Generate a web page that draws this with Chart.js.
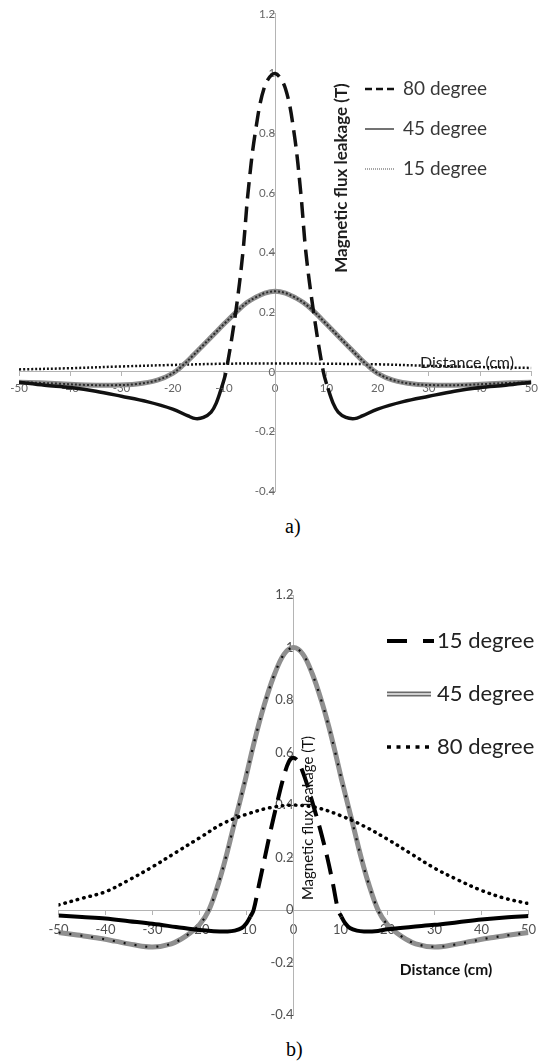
<!DOCTYPE html>
<html lang="en">
<head>
<meta charset="UTF-8">
<title>Magnetic flux leakage vs distance</title>
<script src="https://cdn.jsdelivr.net/npm/chart.js"></script>
<style>
  body { margin: 0; background: #fff; }
  #wrap { position: relative; width: 544px; height: 1063px; overflow: hidden; }
  canvas { position: absolute; left: 0; }
  #chartA { top: 0; }
  #chartB { top: 530px; }
  .cap { position: absolute; font-family: "Liberation Serif", serif; font-size: 20px; color: #000; }
</style>
</head>
<body>
<div id="wrap">
  <canvas id="chartA" width="544" height="505"></canvas>
  <div class="cap" style="left:285px; top:515px;">a)</div>
  <canvas id="chartB" width="544" height="500"></canvas>
  <div class="cap" style="left:286px; top:1038px;">b)</div>
</div>
<script>
// axis ticks (shared by both plots)
const xTickValues = [-50, -40, -30, -20, -10, 0, 10, 20, 30, 40, 50];
const yTickValues = [-0.4, -0.2, 0, 0.2, 0.4, 0.6, 0.8, 1, 1.2];
const yTickLabels = ['-0.4', '-0.2', '0', '0.2', '0.4', '0.6', '0.8', '1', '1.2'];

const yTitle = 'Magnetic flux leakage (T)';
const xTitle = 'Distance (cm)';

// plot a)
const seriesA = ['80 degree', '45 degree', '15 degree'];
const distA80 = [-50, -45, -40, -35, -30, -25, -20, -17, -15.5, -14, -12.5, -11.5, -10.5, -9.6, -7.7, -6.3, -5.3, -3.9, -2, 0,
                 2, 3.7, 5, 6, 7.5, 9.4, 10.3, 11.3, 12.3, 13.8, 15.5, 17, 20, 25, 30, 35, 40, 45, 50];
const fluxA80 = [-0.035, -0.045, -0.053, -0.065, -0.082, -0.1, -0.125, -0.148, -0.157, -0.153, -0.135, -0.105, -0.055, 0, 0.2, 0.4, 0.6, 0.8, 0.96, 1.0,
                 0.95, 0.8, 0.6, 0.4, 0.2, 0, -0.055, -0.105, -0.135, -0.153, -0.157, -0.148, -0.125, -0.1, -0.082, -0.065, -0.053, -0.045, -0.035];
const distA45 = [-50, -46, -42, -37, -32, -27, -23, -20, -18, -16, -14, -12, -10, -7.2, -5.5, -4, -2, 0,
                 2, 4, 5.5, 7.4, 10, 12, 14, 16, 18, 20, 23, 27, 32, 37, 42, 46, 50];
const fluxA45 = [-0.035, -0.037, -0.04, -0.044, -0.045, -0.041, -0.028, -0.005, 0.022, 0.055, 0.09, 0.125, 0.16, 0.207, 0.232, 0.248, 0.264, 0.27,
                 0.264, 0.248, 0.232, 0.205, 0.16, 0.125, 0.09, 0.055, 0.022, -0.005, -0.028, -0.041, -0.045, -0.044, -0.04, -0.037, -0.035];
const distA15 = [-50, -40, -30, -20, -10, 0, 10, 20, 30, 40, 50];
const fluxA15 = [0.008, 0.012, 0.018, 0.023, 0.027, 0.028, 0.027, 0.025, 0.02, 0.016, 0.013];

// plot b)
const seriesB = ['15 degree', '45 degree', '80 degree'];
const distB15 = [-50, -45, -40, -35, -30, -25, -20, -17, -14, -12.5, -11, -10, -9.2, -8.5, -7.3, -6.1, -4.9, -3.6, -2.2, -1, 0,
                 1, 2.5, 4.2, 5.8, 7.2, 8.4, 9.5, 10.2, 11, 12, 13.5, 15, 18, 20, 25, 30, 35, 40, 45, 50];
const fluxB15 = [-0.02, -0.026, -0.032, -0.042, -0.052, -0.064, -0.076, -0.08, -0.081, -0.078, -0.068, -0.05, -0.025, 0, 0.1, 0.2, 0.3, 0.4, 0.5, 0.565, 0.58,
                 0.565, 0.5, 0.4, 0.3, 0.2, 0.1, 0, -0.025, -0.05, -0.068, -0.078, -0.081, -0.079, -0.073, -0.064, -0.056, -0.046, -0.036, -0.028, -0.022];
const distB45 = [-50, -46, -42, -38, -34, -30, -26, -23, -20, -18, -16, -14.4, -13, -11.6, -10.2, -8.9, -7.5, -5.9, -4, -2, 0,
                 2, 4, 5.9, 7.5, 8.9, 10.2, 11.6, 13, 14.4, 16, 18, 20, 23, 26, 30, 34, 38, 42, 46, 50];
const fluxB45 = [-0.085, -0.095, -0.105, -0.118, -0.132, -0.14, -0.128, -0.1, -0.055, 0, 0.1, 0.2, 0.3, 0.4, 0.5, 0.6, 0.7, 0.8, 0.9, 0.975, 1.0,
                 0.975, 0.9, 0.8, 0.7, 0.6, 0.5, 0.4, 0.3, 0.2, 0.1, 0, -0.055, -0.1, -0.128, -0.14, -0.132, -0.118, -0.105, -0.095, -0.085];
const distB80 = [-50, -45, -40, -35, -30, -25, -20, -15, -10, -5, 0, 5, 10, 15, 20, 25, 30, 35, 40, 45, 50];
const fluxB80 = [0.02, 0.045, 0.07, 0.115, 0.165, 0.22, 0.275, 0.33, 0.365, 0.39, 0.4, 0.39, 0.36, 0.32, 0.27, 0.215, 0.16, 0.115, 0.075, 0.045, 0.025];

const FONT = 'Lato, "Open Sans", sans-serif';
Chart.defaults.font.family = FONT;

const pts = (xs, ys) => xs.map((x, i) => ({ x: x, y: ys[i] }));
// dashed only for the segments between lo and hi, solid tails outside
const dashBetween = (lo, hi, dash) => ctx =>
    (ctx.p0.parsed.x >= lo && ctx.p1.parsed.x <= hi) ? dash : [];

function line(data, color, width, dash, extra) {
    return Object.assign({
        data: data,
        borderColor: color,
        borderWidth: width,
        borderDash: dash || [],
        pointRadius: 0,
        fill: false,
        tension: 0.35
    }, extra || {});
}

function drawSample(ctx, s, y) {
    s.layers.forEach(l => {
        ctx.beginPath();
        ctx.strokeStyle = l.color;
        ctx.lineWidth = l.width;
        ctx.lineCap = l.cap || 'butt';
        ctx.setLineDash(l.dash || []);
        ctx.moveTo(s.x0, y);
        ctx.lineTo(s.x1, y);
        ctx.stroke();
    });
    ctx.setLineDash([]);
}

// legend and axis titles sit at free spots inside the plot
const sideText = {
    id: 'sideText',
    afterDatasetsDraw(chart, args, o) {
        const ctx = chart.ctx;
        ctx.save();
        o.items.forEach(it => {
            drawSample(ctx, it.sample, it.y);
            ctx.font = o.legendFont;
            ctx.fillStyle = o.legendColor;
            ctx.textAlign = 'left';
            ctx.textBaseline = 'middle';
            ctx.fillText(it.label, o.textX, it.y);
        });
        ctx.textAlign = 'center';
        ctx.textBaseline = 'middle';
        ctx.fillStyle = o.titleColor;
        ctx.font = o.xTitle.font;
        ctx.fillText(xTitle, o.xTitle.x, o.xTitle.y);
        ctx.translate(o.yTitle.x, o.yTitle.y);
        ctx.rotate(-Math.PI / 2);
        ctx.font = o.yTitle.font;
        ctx.fillText(yTitle, 0, 0);
        ctx.restore();
    }
};

function scales(tickFont, tickColor, xPad) {
    const axisGrid = { drawOnChartArea: false, color: '#b4b4b4', tickLength: 4, lineWidth: 1 };
    return {
        x: {
            type: 'linear', min: -50, max: 50,
            position: { y: 0 },
            afterBuildTicks: s => { s.ticks = xTickValues.map(v => ({ value: v })); },
            ticks: { autoSkip: false, maxRotation: 0, padding: xPad, font: tickFont, color: tickColor,
                     callback: v => String(v) },
            grid: axisGrid,
            border: { color: '#b4b4b4', width: 1 }
        },
        y: {
            type: 'linear', min: -0.4, max: 1.2,
            position: { x: 0 },
            afterBuildTicks: s => { s.ticks = yTickValues.map(v => ({ value: v })); },
            ticks: { autoSkip: false, padding: 7, font: tickFont, color: tickColor,
                     callback: (v, i) => yTickLabels[i] },
            grid: Object.assign({}, axisGrid, { tickLength: 5 }),
            border: { color: '#b4b4b4', width: 1 }
        }
    };
}

new Chart(document.getElementById('chartA'), {
    type: 'line',
    data: {
        datasets: [
            line(pts(distA80, fluxA80), '#111', 3.5, [], {
                label: seriesA[0],
                segment: { borderDash: dashBetween(-10.6, 10.4, [16, 8]) }
            }),
            line(pts(distA45, fluxA45), '#2a2a2a', 2, [2, 2], { label: seriesA[1] + ' dots' }),
            line(pts(distA45, fluxA45), '#8d8d8d', 5, [], { label: seriesA[1] }),
            line(pts(distA15, fluxA15), '#111', 2.5, [2, 2], { label: seriesA[2] })
        ]
    },
    options: {
        responsive: false,
        animation: false,
        layout: { padding: { left: 19, right: 7, top: 13, bottom: 12 } },
        scales: scales({ size: 11.5 }, '#666', 6),
        plugins: {
            legend: { display: false },
            tooltip: { enabled: false },
            sideText: {
                textX: 403,
                legendFont: '19px ' + FONT,
                legendColor: '#383838',
                titleColor: '#1e1e1e',
                items: [
                    { label: seriesA[0], y: 89,
                      sample: { x0: 365, x1: 394, layers: [{ color: '#111', width: 2.5, dash: [7, 4] }] } },
                    { label: seriesA[1], y: 129,
                      sample: { x0: 365, x1: 394, layers: [{ color: '#444', width: 1.5 }] } },
                    { label: seriesA[2], y: 169,
                      sample: { x0: 365, x1: 394, layers: [{ color: '#888', width: 1.5, dash: [1, 1] }] } }
                ],
                xTitle: { x: 467, y: 363, font: '16px ' + FONT },
                yTitle: { x: 342, y: 178, font: 'bold 17px ' + FONT }
            }
        }
    },
    plugins: [sideText]
});

new Chart(document.getElementById('chartB'), {
    type: 'line',
    data: {
        datasets: [
            line(pts(distB15, fluxB15), '#000', 4, [], {
                label: seriesB[0],
                segment: { borderDash: dashBetween(-9.3, 10.3, [20, 10]) }
            }),
            line(pts(distB80, fluxB80), '#000', 3.5, [0.5, 6], { label: seriesB[2], borderCapStyle: 'round' }),
            line(pts(distB45, fluxB45), '#111', 2.2, [2, 9], { label: seriesB[1] + ' dots' }),
            line(pts(distB45, fluxB45), '#8f8f8f', 5, [], { label: seriesB[1] })
        ]
    },
    options: {
        responsive: false,
        animation: false,
        layout: { padding: { left: 58.5, right: 13.5, top: 65, bottom: 9.6 } },
        scales: scales({ size: 13 }, '#505050', 8),
        plugins: {
            legend: { display: false },
            tooltip: { enabled: false },
            sideText: {
                textX: 437,
                legendFont: '22px ' + FONT,
                legendColor: '#222',
                titleColor: '#111',
                items: [
                    { label: seriesB[0], y: 111,
                      sample: { x0: 387, x1: 434, layers: [{ color: '#000', width: 4, dash: [20, 16] }] } },
                    { label: seriesB[1], y: 164,
                      sample: { x0: 387, x1: 431, layers: [{ color: '#6a6a6a', width: 5 }, { color: '#f2f2f2', width: 1.5 }] } },
                    { label: seriesB[2], y: 217,
                      sample: { x0: 387, x1: 434, layers: [{ color: '#000', width: 3.5, dash: [4, 5.5] }] } }
                ],
                xTitle: { x: 446, y: 440, font: 'bold 15.5px ' + FONT },
                yTitle: { x: 308, y: 288, font: '15px ' + FONT }
            }
        }
    },
    plugins: [sideText]
});
</script>
</body>
</html>
